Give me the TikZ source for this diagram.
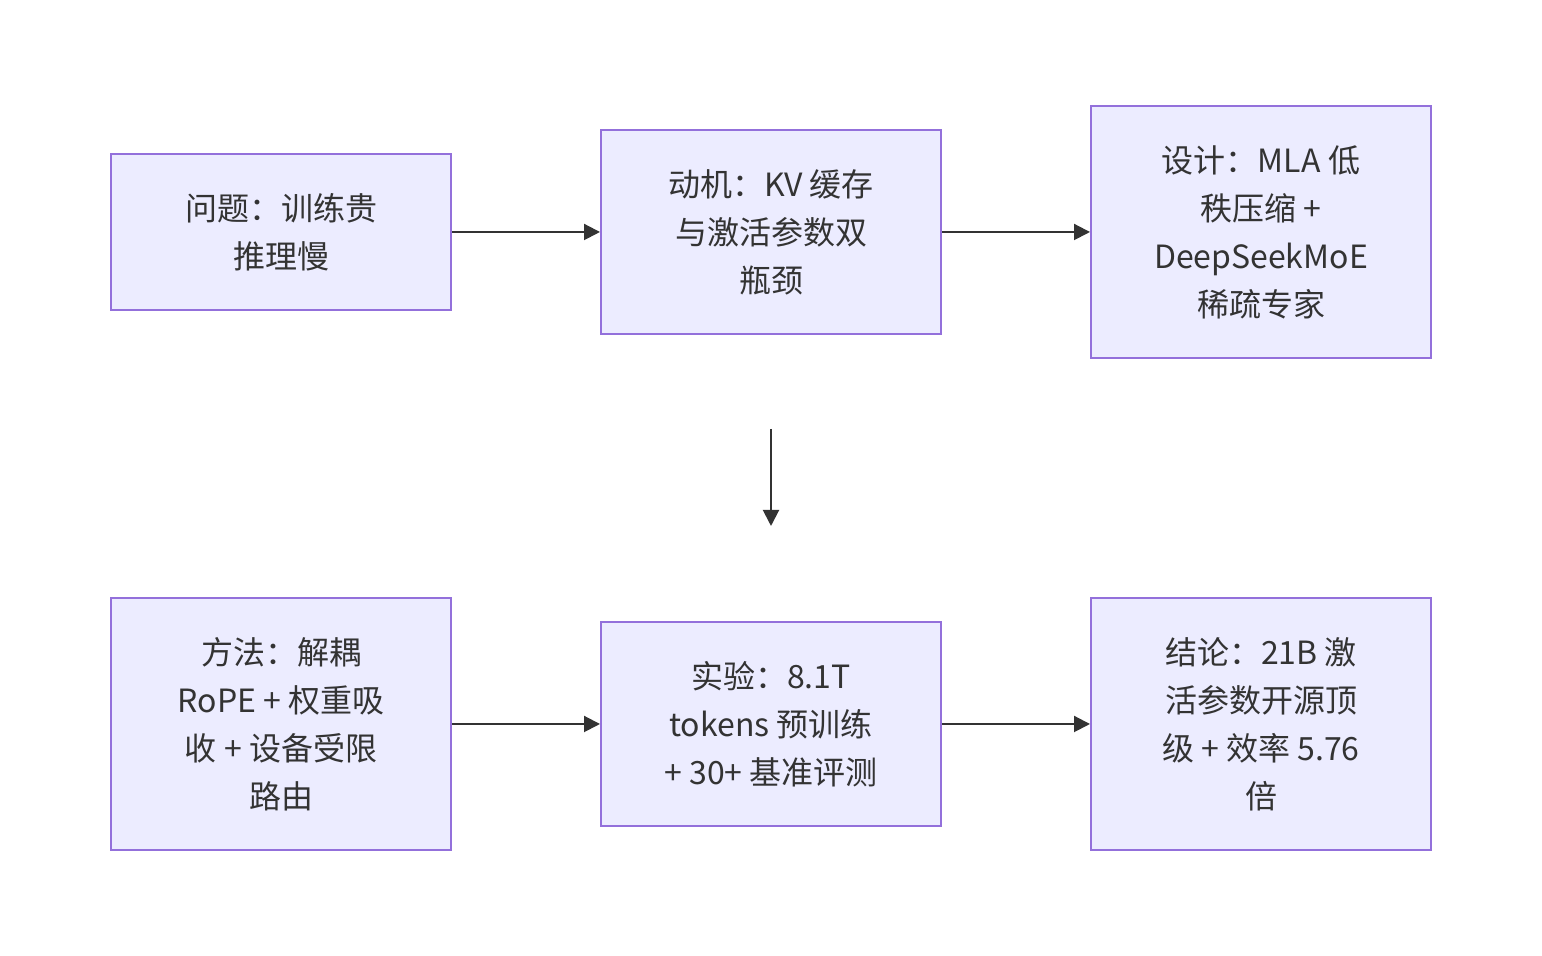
\documentclass[tikz,border=0pt]{standalone}
\usepackage{fontspec}
\setmainfont{Noto Sans CJK SC}
\usepackage{xcolor}
\usetikzlibrary{shapes.geometric, arrows.meta, positioning}
\definecolor{boxfill}{HTML}{ECECFF}
\definecolor{boxline}{HTML}{9370DB}
\definecolor{inkgray}{HTML}{333333}
\tikzstyle{stagebox} = [rectangle,
minimum width=170pt,
minimum height=78pt,
align=center,
fill=boxfill,
line width=1pt,
text=inkgray,
font=\fontsize{16pt}{24pt}\selectfont,
draw=boxline]
\tikzstyle{flow} = [line width=1pt, draw=inkgray, -{Triangle[length=8pt,width=8pt]}]

\begin{document}
\begin{tikzpicture}[node distance=245pt]
		\useasboundingbox (0,0) rectangle (771pt,478pt);
		\node (problem) [stagebox] at (140.5pt,362pt) {问题：训练贵\\推理慢};
		\node (motive) [stagebox, minimum height=102pt, right of=problem] {动机：KV 缓存\\与激活参数双\\瓶颈};
		\node (design) [stagebox, minimum height=126pt, right of=motive] {设计：MLA 低\\秩压缩 +\\DeepSeekMoE\\稀疏专家};
		\node (method) [stagebox, minimum height=126pt, below of=problem, yshift=-1pt] {方法：解耦\\RoPE + 权重吸\\收 + 设备受限\\路由};
		\node (exper) [stagebox, minimum height=102pt, right of=method] {实验：8.1T\\tokens 预训练\\+ 30+ 基准评测};
		\node (concl) [stagebox, minimum height=126pt, right of=exper] {结论：21B 激\\活参数开源顶\\级 + 效率 5.76\\倍};
		
		\coordinate (gaptop) at ([yshift=-47pt]motive.south);
		\coordinate (gapbot) at ([yshift=47.5pt]exper.north);
		
		\draw [flow](problem) -- (motive);
		\draw [flow](motive) -- (design);
		\draw [flow](gaptop) -- (gapbot);
		\draw [flow](method) -- (exper);
		\draw [flow](exper) -- (concl);
	\end{tikzpicture}
\end{document}
